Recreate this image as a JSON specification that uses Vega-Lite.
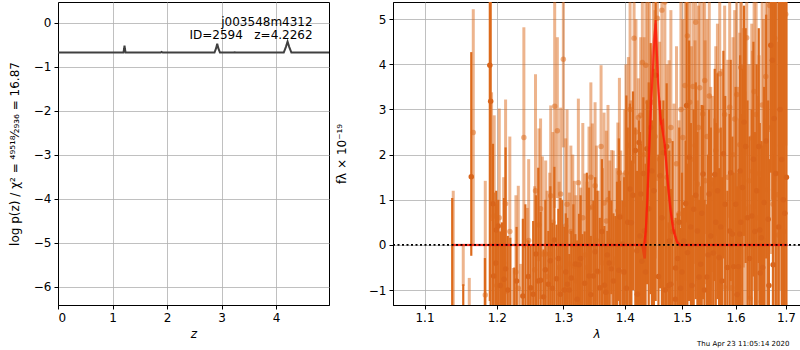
{
  "$schema": "https://vega.github.io/schema/vega-lite/v6.json",
  "padding": {"left": 7, "top": 1, "right": 2, "bottom": 1},
  "config": {
    "font": "DejaVu Sans",
    "view": {"stroke": "black", "strokeWidth": 1},
    "concat": {"spacing": 4},
    "text": {"font": "DejaVu Sans"},
    "axis": {
      "grid": true, "gridColor": "#b0b0b0", "gridWidth": 0.8, "gridOpacity": 1,
      "domainColor": "black", "tickColor": "black", "tickSize": 4,
      "labelFont": "DejaVu Sans", "labelFontSize": 12, "labelColor": "black", "labelPadding": 3,
      "titleFont": "DejaVu Sans", "titleFontSize": 12, "titleColor": "black", "titleFontWeight": "normal"
    }
  },
  "datasets": {
    "pz": [
      {"z": 0, "p": -0.68}, {"z": 1.2, "p": -0.68}, {"z": 1.212, "p": -0.6}, {"z": 1.22, "p": -0.52}, {"z": 1.228, "p": -0.6}, {"z": 1.24, "p": -0.68},
      {"z": 1.88, "p": -0.68}, {"z": 1.9, "p": -0.665}, {"z": 1.92, "p": -0.68},
      {"z": 2.87, "p": -0.68}, {"z": 2.9, "p": -0.58}, {"z": 2.92, "p": -0.48}, {"z": 2.94, "p": -0.58}, {"z": 2.97, "p": -0.68},
      {"z": 3.22, "p": -0.68}, {"z": 3.24, "p": -0.672}, {"z": 3.26, "p": -0.68},
      {"z": 4.14, "p": -0.68}, {"z": 4.18, "p": -0.55}, {"z": 4.21, "p": -0.43}, {"z": 4.24, "p": -0.55}, {"z": 4.28, "p": -0.68},
      {"z": 4.97, "p": -0.68}
    ],
    "light": [
      {"l": 1.1387, "f": null, "lo": -2, "hi": 1.2},
      {"l": 1.1525, "f": null, "lo": -0.91, "hi": -0.02},
      {"l": 1.1609, "f": null, "lo": -2, "hi": -0.73},
      {"l": 1.1665, "f": 2.49, "lo": -0.02, "hi": 5.22},
      {"l": 1.1835, "f": -1.11, "lo": -2, "hi": 1.42},
      {"l": 1.1925, "f": null, "lo": 0.53, "hi": 3.38},
      {"l": 1.1963, "f": 0.64, "lo": -0.47, "hi": 2.87},
      {"l": 1.2000, "f": -0.9, "lo": -2, "hi": 0.9},
      {"l": 1.2036, "f": 0.6, "lo": -1.8, "hi": 3.02},
      {"l": 1.2100, "f": -0.4, "lo": -2, "hi": 1.5},
      {"l": 1.2128, "f": 0.91, "lo": -1.09, "hi": 3.22},
      {"l": 1.2190, "f": 0.3, "lo": -1.8, "hi": 2.4},
      {"l": 1.2241, "f": null, "lo": -2, "hi": -0.51},
      {"l": 1.2280, "f": -0.6, "lo": -2, "hi": 1.1},
      {"l": 1.2315, "f": -0.96, "lo": -2, "hi": 1.31},
      {"l": 1.2349, "f": null, "lo": -2, "hi": -0.42},
      {"l": 1.2398, "f": 2.38, "lo": -0.07, "hi": 4.82},
      {"l": 1.2449, "f": null, "lo": -2, "hi": 0.82},
      {"l": 1.2470, "f": 0.1, "lo": -2, "hi": 1.9},
      {"l": 1.2495, "f": null, "lo": -2, "hi": -0.91},
      {"l": 1.2560, "f": -0.55, "lo": -2, "hi": 1.3},
      {"l": 1.2573, "f": 1.2, "lo": -2, "hi": 3.78},
      {"l": 1.2625, "f": 0.44, "lo": -0.36, "hi": 2.58},
      {"l": 1.2650, "f": 0.8, "lo": -1.2, "hi": 2.8},
      {"l": 1.2677, "f": -0.2, "lo": -1.5, "hi": 1.96},
      {"l": 1.2728, "f": -0.2, "lo": -2, "hi": 1.87},
      {"l": 1.2750, "f": -0.7, "lo": -2, "hi": 1.2},
      {"l": 1.2790, "f": -0.2, "lo": -2, "hi": 1.6},
      {"l": 1.2806, "f": 1.09, "lo": -0.87, "hi": 3.09},
      {"l": 1.2840, "f": 0.5, "lo": -1.5, "hi": 2.5},
      {"l": 1.2867, "f": 3.07, "lo": 0.82, "hi": 6},
      {"l": 1.2908, "f": 2.53, "lo": 1.04, "hi": 4.6},
      {"l": 1.2935, "f": -0.5, "lo": -2, "hi": 1.4},
      {"l": 1.2960, "f": 1.13, "lo": -1.02, "hi": 3.04},
      {"l": 1.3002, "f": 4.11, "lo": 2.16, "hi": 6},
      {"l": 1.3038, "f": 0.42, "lo": -2, "hi": 2.36},
      {"l": 1.3060, "f": 0.9, "lo": -1.2, "hi": 3.0},
      {"l": 1.3096, "f": -0.42, "lo": -2, "hi": 1.16},
      {"l": 1.3120, "f": 0.3, "lo": -1.6, "hi": 2.2},
      {"l": 1.3150, "f": 0.0, "lo": -2, "hi": 2.0},
      {"l": 1.3175, "f": -0.47, "lo": -2, "hi": 1.42},
      {"l": 1.3200, "f": -0.8, "lo": -2, "hi": 1.1},
      {"l": 1.3239, "f": 1.38, "lo": -2, "hi": 3.24},
      {"l": 1.3277, "f": null, "lo": -2, "hi": 1.27},
      {"l": 1.3310, "f": 0.6, "lo": -1.5, "hi": 2.7},
      {"l": 1.3346, "f": -0.22, "lo": -2, "hi": 1.58},
      {"l": 1.3380, "f": -0.5, "lo": -2, "hi": 1.4},
      {"l": 1.3410, "f": 0.82, "lo": -2, "hi": 2.62},
      {"l": 1.3440, "f": 1.5, "lo": -0.6, "hi": 3.6},
      {"l": 1.3464, "f": 0.84, "lo": -2, "hi": 2.69},
      {"l": 1.3508, "f": 1.31, "lo": -1.24, "hi": 3.16},
      {"l": 1.3530, "f": 0.1, "lo": -2, "hi": 2.2},
      {"l": 1.3560, "f": -0.6, "lo": -2, "hi": 1.2},
      {"l": 1.3606, "f": 2.18, "lo": -0.36, "hi": 3.98},
      {"l": 1.3630, "f": -0.4, "lo": -2, "hi": 1.7},
      {"l": 1.3655, "f": 0.93, "lo": -1.09, "hi": 2.93},
      {"l": 1.3693, "f": 0.53, "lo": -2, "hi": 2.53},
      {"l": 1.3720, "f": 1.0, "lo": -1.1, "hi": 3.1},
      {"l": 1.3750, "f": 0.09, "lo": -2, "hi": 1.87},
      {"l": 1.3780, "f": 0.0, "lo": -2, "hi": 2.1},
      {"l": 1.3808, "f": -0.4, "lo": -2, "hi": 2.09},
      {"l": 1.3860, "f": -0.3, "lo": -2, "hi": 1.7},
      {"l": 1.3884, "f": 0.76, "lo": 0.38, "hi": 2.71},
      {"l": 1.3910, "f": 1.6, "lo": -0.5, "hi": 3.7},
      {"l": 1.3932, "f": 0.64, "lo": -0.51, "hi": 2.09},
      {"l": 1.3970, "f": -0.6, "lo": -2, "hi": 1.6},
      {"l": 1.4000, "f": 0.9, "lo": -1.3, "hi": 3.0},
      {"l": 1.4020, "f": 1.6, "lo": -0.8, "hi": 4.0},
      {"l": 1.4061, "f": 2.2, "lo": -1.0, "hi": 4.16},
      {"l": 1.4090, "f": 3.0, "lo": 0.5, "hi": 5.6},
      {"l": 1.4104, "f": 1.58, "lo": -0.36, "hi": 3.2},
      {"l": 1.4158, "f": 4.58, "lo": 1.8, "hi": 6},
      {"l": 1.4190, "f": 2.5, "lo": 0.0, "hi": 5.0},
      {"l": 1.4231, "f": 2.82, "lo": -0.51, "hi": 3.69},
      {"l": 1.4271, "f": 2.87, "lo": 0.98, "hi": 4.6},
      {"l": 1.4300, "f": 4.04, "lo": -0.13, "hi": 6},
      {"l": 1.4330, "f": 2.0, "lo": -0.5, "hi": 4.6},
      {"l": 1.4360, "f": 3.98, "lo": 0.38, "hi": 6},
      {"l": 1.4395, "f": 3.16, "lo": 1.27, "hi": 6},
      {"l": 1.4421, "f": 2.49, "lo": 1.27, "hi": 6},
      {"l": 1.4491, "f": 3.16, "lo": 1.71, "hi": 6},
      {"l": 1.4520, "f": 2.4, "lo": -0.3, "hi": 5.2},
      {"l": 1.4561, "f": 5.02, "lo": 1.42, "hi": 6},
      {"l": 1.4600, "f": 1.9, "lo": -0.6, "hi": 4.5},
      {"l": 1.4640, "f": 5.2, "lo": 0.76, "hi": 6},
      {"l": 1.4693, "f": 5.38, "lo": 1.27, "hi": 6},
      {"l": 1.4730, "f": 1.5, "lo": -1.0, "hi": 4.0},
      {"l": 1.4767, "f": 2.31, "lo": 0.38, "hi": 4.09},
      {"l": 1.4800, "f": 2.6, "lo": 0.0, "hi": 5.2},
      {"l": 1.4855, "f": 0.49, "lo": -2, "hi": 3.13},
      {"l": 1.4900, "f": 1.8, "lo": -0.8, "hi": 4.4},
      {"l": 1.4944, "f": 0.69, "lo": -2, "hi": 2.76},
      {"l": 1.4980, "f": 3.0, "lo": 0.4, "hi": 5.6},
      {"l": 1.5015, "f": 2.38, "lo": -0.2, "hi": 5.0},
      {"l": 1.5055, "f": 3.53, "lo": -0.8, "hi": 6},
      {"l": 1.5097, "f": 4.63, "lo": 0.98, "hi": 6},
      {"l": 1.5139, "f": 3.16, "lo": 0.31, "hi": 6},
      {"l": 1.5170, "f": 1.9, "lo": -0.6, "hi": 4.4},
      {"l": 1.5200, "f": 3.51, "lo": 0.98, "hi": 6},
      {"l": 1.5237, "f": 2.2, "lo": -0.42, "hi": 4.53},
      {"l": 1.5249, "f": 4.93, "lo": 1.42, "hi": 6},
      {"l": 1.5280, "f": 1.35, "lo": -0.8, "hi": 3.2},
      {"l": 1.5300, "f": 2.6, "lo": 0.0, "hi": 5.3},
      {"l": 1.5323, "f": 3.48, "lo": -0.13, "hi": 6},
      {"l": 1.5380, "f": 2.9, "lo": 0.3, "hi": 5.6},
      {"l": 1.5415, "f": 3.64, "lo": 0.24, "hi": 6},
      {"l": 1.5422, "f": 1.42, "lo": -0.87, "hi": 4.53},
      {"l": 1.5460, "f": 2.4, "lo": -0.2, "hi": 5.0},
      {"l": 1.5500, "f": 3.3, "lo": 0.7, "hi": 6},
      {"l": 1.5528, "f": 1.2, "lo": -1.0, "hi": 3.5},
      {"l": 1.5559, "f": 1.35, "lo": -0.6, "hi": 3.3},
      {"l": 1.5600, "f": 0.3, "lo": -2, "hi": 2.8},
      {"l": 1.5622, "f": 2.09, "lo": -0.2, "hi": 4.4},
      {"l": 1.5653, "f": 2.53, "lo": 0.2, "hi": 4.9},
      {"l": 1.5697, "f": 3.79, "lo": 1.5, "hi": 6},
      {"l": 1.5730, "f": 1.4, "lo": -1.0, "hi": 3.9},
      {"l": 1.5778, "f": -0.93, "lo": -2, "hi": 0.9},
      {"l": 1.5790, "f": 2.89, "lo": 0.4, "hi": 5.3},
      {"l": 1.5850, "f": 1.5, "lo": -1.0, "hi": 4.1},
      {"l": 1.5886, "f": 3.05, "lo": 0.6, "hi": 5.5},
      {"l": 1.5925, "f": -0.95, "lo": -2, "hi": 0.8},
      {"l": 1.5950, "f": 2.0, "lo": -0.5, "hi": 4.6},
      {"l": 1.5982, "f": 2.79, "lo": 0.3, "hi": 5.2},
      {"l": 1.6021, "f": 3.33, "lo": 1.0, "hi": 5.7},
      {"l": 1.6040, "f": 0.9, "lo": -1.6, "hi": 3.5},
      {"l": 1.6067, "f": -0.91, "lo": -2, "hi": 1.2},
      {"l": 1.6080, "f": 2.22, "lo": -0.2, "hi": 4.7},
      {"l": 1.6099, "f": 3.93, "lo": 1.5, "hi": 6},
      {"l": 1.6111, "f": 3.94, "lo": 1.6, "hi": 6},
      {"l": 1.6150, "f": 2.1, "lo": -0.5, "hi": 4.8},
      {"l": 1.6180, "f": 0.8, "lo": -1.8, "hi": 3.4},
      {"l": 1.6215, "f": 4.59, "lo": 2.0, "hi": 6},
      {"l": 1.6261, "f": 1.42, "lo": -1.2, "hi": 4.0},
      {"l": 1.6280, "f": -1.18, "lo": -2, "hi": 0.9},
      {"l": 1.6314, "f": 2.37, "lo": -0.1, "hi": 4.9},
      {"l": 1.6327, "f": 1.63, "lo": -1.0, "hi": 4.3},
      {"l": 1.6360, "f": 3.4, "lo": 0.8, "hi": 6},
      {"l": 1.6400, "f": 2.89, "lo": 0.3, "hi": 5.5},
      {"l": 1.6430, "f": 0.6, "lo": -2, "hi": 3.3},
      {"l": 1.6459, "f": 1.58, "lo": -1.0, "hi": 4.2},
      {"l": 1.6499, "f": -1.26, "lo": -2, "hi": 1.0},
      {"l": 1.6520, "f": 3.1, "lo": 0.5, "hi": 5.8},
      {"l": 1.6545, "f": 2.22, "lo": -0.6, "hi": 5.0},
      {"l": 1.6570, "f": 0.1, "lo": -2, "hi": 2.8},
      {"l": 1.6592, "f": 3.73, "lo": 0.9, "hi": 6},
      {"l": 1.6625, "f": 1.22, "lo": -2, "hi": 6},
      {"l": 1.6672, "f": 5.3, "lo": 2.5, "hi": 6},
      {"l": 1.6700, "f": 2.6, "lo": -0.2, "hi": 6},
      {"l": 1.6740, "f": 0.9, "lo": -2, "hi": 6},
      {"l": 1.6773, "f": 4.58, "lo": 1.4, "hi": 6},
      {"l": 1.6826, "f": 1.11, "lo": -2, "hi": 6},
      {"l": 1.6846, "f": 0.22, "lo": -2, "hi": 4.5},
      {"l": 1.6890, "f": 2.2, "lo": -1, "hi": 6},
      {"l": 1.6930, "f": 3.6, "lo": 0.5, "hi": 6},
      {"l": 1.6960, "f": 0.3, "lo": -2, "hi": 6},
      {"l": 1.6996, "f": 5.11, "lo": 2.2, "hi": 6}
    ],
    "dark": [
      {"l": 1.1373, "f": null, "lo": -2, "hi": 1.04},
      {"l": 1.1525, "f": null, "lo": -2, "hi": -0.87},
      {"l": 1.1637, "f": 1.51, "lo": -0.24, "hi": 4.27},
      {"l": 1.1830, "f": null, "lo": -2, "hi": -0.29},
      {"l": 1.1900, "f": 3.98, "lo": -1.24, "hi": 6},
      {"l": 1.1912, "f": 3.18, "lo": -2, "hi": 6},
      {"l": 1.1945, "f": 0.91, "lo": -2, "hi": 2.24},
      {"l": 1.1955, "f": -0.69, "lo": -2, "hi": 1.16},
      {"l": 1.1985, "f": -0.4, "lo": -2, "hi": 0.9},
      {"l": 1.1992, "f": 0.33, "lo": -2, "hi": 1.2},
      {"l": 1.2021, "f": 0.42, "lo": -2, "hi": 1.0},
      {"l": 1.2051, "f": -0.9, "lo": -2, "hi": 0.3},
      {"l": 1.2075, "f": null, "lo": -2, "hi": 0.5},
      {"l": 1.2105, "f": -0.76, "lo": -2, "hi": 1.04},
      {"l": 1.2128, "f": -0.53, "lo": -2, "hi": 2.16},
      {"l": 1.2160, "f": -1.0, "lo": -2, "hi": 0.2},
      {"l": 1.2197, "f": null, "lo": -2, "hi": 0.16},
      {"l": 1.2256, "f": null, "lo": -2, "hi": -0.5},
      {"l": 1.2290, "f": -0.8, "lo": -2, "hi": 0.4},
      {"l": 1.2383, "f": -1.13, "lo": -2, "hi": 0.58},
      {"l": 1.2420, "f": null, "lo": -2, "hi": 0.9},
      {"l": 1.2464, "f": -0.7, "lo": -2, "hi": 0.1},
      {"l": 1.2500, "f": -0.95, "lo": -2, "hi": 0.0},
      {"l": 1.2538, "f": -1.09, "lo": -2, "hi": 0.53},
      {"l": 1.2580, "f": -0.2, "lo": -2, "hi": 1.1},
      {"l": 1.2615, "f": -0.8, "lo": -2, "hi": 1.71},
      {"l": 1.2650, "f": -0.78, "lo": -2, "hi": 0.73},
      {"l": 1.2695, "f": -1.15, "lo": -2, "hi": -0.1},
      {"l": 1.2723, "f": -0.55, "lo": -2, "hi": 1.0},
      {"l": 1.2769, "f": -0.87, "lo": -2, "hi": 0.31},
      {"l": 1.2800, "f": -0.35, "lo": -2, "hi": 1.3},
      {"l": 1.2830, "f": -0.96, "lo": -2, "hi": 0.49},
      {"l": 1.2862, "f": 0.11, "lo": -2, "hi": 1.73},
      {"l": 1.2895, "f": -0.75, "lo": -2, "hi": 0.45},
      {"l": 1.2924, "f": -0.3, "lo": -2, "hi": 0.8},
      {"l": 1.2955, "f": -1.09, "lo": -2, "hi": 1.04},
      {"l": 1.2985, "f": null, "lo": -2, "hi": 1.0},
      {"l": 1.3017, "f": -1.0, "lo": -2, "hi": 0.4},
      {"l": 1.3040, "f": -0.6, "lo": -2, "hi": 0.7},
      {"l": 1.3064, "f": -0.87, "lo": -2, "hi": 0.6},
      {"l": 1.3095, "f": -1.0, "lo": -2, "hi": -0.2},
      {"l": 1.3127, "f": -0.73, "lo": -2, "hi": 0.31},
      {"l": 1.3160, "f": null, "lo": -2, "hi": 0.9},
      {"l": 1.3191, "f": -0.42, "lo": -2, "hi": 0.24},
      {"l": 1.3220, "f": -1.2, "lo": -2, "hi": 0.1},
      {"l": 1.3250, "f": -0.44, "lo": -2, "hi": 0.69},
      {"l": 1.3275, "f": -0.3, "lo": -2, "hi": 1.1},
      {"l": 1.3303, "f": null, "lo": -2, "hi": 0.24},
      {"l": 1.3340, "f": -0.85, "lo": -2, "hi": 0.3},
      {"l": 1.3375, "f": null, "lo": -2, "hi": 1.6},
      {"l": 1.3410, "f": -0.69, "lo": -2, "hi": 1.27},
      {"l": 1.3440, "f": -1.1, "lo": -2, "hi": 0.2},
      {"l": 1.3480, "f": -0.69, "lo": -2, "hi": 0.98},
      {"l": 1.3510, "f": -0.15, "lo": -2, "hi": 1.5},
      {"l": 1.3545, "f": -0.58, "lo": -2, "hi": 1.2},
      {"l": 1.3585, "f": -0.95, "lo": -2, "hi": 0.6},
      {"l": 1.3620, "f": 0.3, "lo": -2, "hi": 1.9},
      {"l": 1.3660, "f": -0.89, "lo": -2, "hi": 0.42},
      {"l": 1.3685, "f": -1.05, "lo": -2, "hi": 0.0},
      {"l": 1.3709, "f": -0.22, "lo": -2, "hi": 0.31},
      {"l": 1.3740, "f": -0.4, "lo": -2, "hi": 1.2},
      {"l": 1.3775, "f": -0.53, "lo": -1.09, "hi": 0.98},
      {"l": 1.3810, "f": -0.8, "lo": -2, "hi": 0.7},
      {"l": 1.3842, "f": null, "lo": -2, "hi": 0.64},
      {"l": 1.3870, "f": null, "lo": -2, "hi": 1.4},
      {"l": 1.3901, "f": -0.56, "lo": -1.24, "hi": 2.36},
      {"l": 1.3918, "f": 0.62, "lo": -2, "hi": 1.42},
      {"l": 1.3960, "f": 0.02, "lo": -2, "hi": 0.98},
      {"l": 1.3990, "f": -0.6, "lo": -2, "hi": 1.5},
      {"l": 1.4027, "f": -0.96, "lo": -2, "hi": 3.31},
      {"l": 1.4050, "f": 0.5, "lo": -1.5, "hi": 2.6},
      {"l": 1.4087, "f": 1.24, "lo": -2, "hi": 3.13},
      {"l": 1.4112, "f": 0.49, "lo": -2, "hi": 1.87},
      {"l": 1.4140, "f": 1.1, "lo": -1.0, "hi": 3.4},
      {"l": 1.4180, "f": 2.09, "lo": -2, "hi": 2.6},
      {"l": 1.4206, "f": -0.13, "lo": -2, "hi": 1.64},
      {"l": 1.4214, "f": -1.09, "lo": -2, "hi": 0.3},
      {"l": 1.4243, "f": 2.27, "lo": -2, "hi": 2.76},
      {"l": 1.4260, "f": 0.2, "lo": -2, "hi": 2.5},
      {"l": 1.4275, "f": 1.13, "lo": -1.24, "hi": 2.24},
      {"l": 1.4292, "f": -0.36, "lo": -2, "hi": 0.98},
      {"l": 1.4317, "f": 1.58, "lo": -2, "hi": 3.27},
      {"l": 1.4334, "f": 0.31, "lo": -2, "hi": 1.64},
      {"l": 1.4355, "f": -0.6, "lo": -2, "hi": 1.8},
      {"l": 1.4378, "f": 2.13, "lo": -0.87, "hi": 3.2},
      {"l": 1.4410, "f": 0.8, "lo": -1.6, "hi": 3.6},
      {"l": 1.4444, "f": 2.6, "lo": -1.09, "hi": 4.47},
      {"l": 1.4465, "f": 1.64, "lo": -2, "hi": 2.76},
      {"l": 1.4500, "f": 1.2, "lo": -1.5, "hi": 3.9},
      {"l": 1.4531, "f": 3.76, "lo": -1.24, "hi": 5.5},
      {"l": 1.4580, "f": -0.7, "lo": -2, "hi": 2.0},
      {"l": 1.4609, "f": 1.53, "lo": -0.96, "hi": 3.2},
      {"l": 1.4640, "f": 0.6, "lo": -2, "hi": 3.0},
      {"l": 1.4667, "f": 2.04, "lo": -2, "hi": 3.2},
      {"l": 1.4700, "f": -1.0, "lo": -2, "hi": 1.3},
      {"l": 1.4725, "f": 2.18, "lo": -2, "hi": 3.58},
      {"l": 1.4760, "f": -0.9, "lo": -2, "hi": 0.5},
      {"l": 1.4772, "f": 0.09, "lo": -2, "hi": 2.09},
      {"l": 1.4798, "f": -0.87, "lo": -2, "hi": 1.24},
      {"l": 1.4830, "f": 0.3, "lo": -2, "hi": 2.3},
      {"l": 1.4880, "f": -1.2, "lo": -2, "hi": 0.2},
      {"l": 1.4884, "f": -0.51, "lo": -2, "hi": 0.6},
      {"l": 1.4920, "f": -0.3, "lo": -2, "hi": 0.7},
      {"l": 1.4950, "f": 0.5, "lo": -1.8, "hi": 2.6},
      {"l": 1.4973, "f": -0.96, "lo": -2, "hi": 0.38},
      {"l": 1.5000, "f": -0.6, "lo": -2, "hi": 1.6},
      {"l": 1.5033, "f": 0.09, "lo": -2, "hi": 0.82},
      {"l": 1.5066, "f": 0.92, "lo": -2, "hi": 2.31},
      {"l": 1.5083, "f": 3.09, "lo": 0.5, "hi": 5.6},
      {"l": 1.5097, "f": -0.17, "lo": -2, "hi": 1.8},
      {"l": 1.5128, "f": 1.94, "lo": -1.24, "hi": 4.53},
      {"l": 1.5160, "f": 0.4, "lo": -2, "hi": 2.7},
      {"l": 1.5180, "f": -0.9, "lo": -2, "hi": 1.1},
      {"l": 1.5212, "f": 0.79, "lo": -1.5, "hi": 3.0},
      {"l": 1.5250, "f": 1.1, "lo": -1.2, "hi": 3.6},
      {"l": 1.5280, "f": 0.31, "lo": -2, "hi": 2.5},
      {"l": 1.5311, "f": -0.71, "lo": -2, "hi": 1.0},
      {"l": 1.5341, "f": -0.43, "lo": -2, "hi": 1.3},
      {"l": 1.5360, "f": 0.7, "lo": -1.6, "hi": 3.1},
      {"l": 1.5385, "f": 1.57, "lo": -1.2, "hi": 3.09},
      {"l": 1.5410, "f": -1.0, "lo": -2, "hi": 1.0},
      {"l": 1.5455, "f": -0.71, "lo": -2, "hi": 0.9},
      {"l": 1.5478, "f": -0.22, "lo": -2, "hi": 2.0},
      {"l": 1.5497, "f": 1.13, "lo": -2, "hi": 3.0},
      {"l": 1.5530, "f": 0.2, "lo": -2, "hi": 2.6},
      {"l": 1.5573, "f": -0.18, "lo": -2, "hi": 1.5},
      {"l": 1.5603, "f": 1.56, "lo": -0.8, "hi": 3.9},
      {"l": 1.5622, "f": 0.5, "lo": -1.6, "hi": 2.7},
      {"l": 1.5655, "f": 1.2, "lo": -1.2, "hi": 3.8},
      {"l": 1.5684, "f": -0.28, "lo": -2, "hi": 1.7},
      {"l": 1.5716, "f": 0.4, "lo": -1.8, "hi": 2.6},
      {"l": 1.5740, "f": -0.8, "lo": -2, "hi": 1.5},
      {"l": 1.5766, "f": 2.02, "lo": -0.3, "hi": 4.3},
      {"l": 1.5800, "f": 0.9, "lo": -1.5, "hi": 3.3},
      {"l": 1.5842, "f": -0.5, "lo": -2, "hi": 1.2},
      {"l": 1.5886, "f": 0.31, "lo": -2, "hi": 2.9},
      {"l": 1.5905, "f": 1.6, "lo": -0.8, "hi": 4.1},
      {"l": 1.5938, "f": 0.24, "lo": -2, "hi": 2.4},
      {"l": 1.5963, "f": -0.48, "lo": -2, "hi": 1.6},
      {"l": 1.6000, "f": 0.9, "lo": -1.6, "hi": 3.5},
      {"l": 1.6030, "f": -1.1, "lo": -2, "hi": 1.3},
      {"l": 1.6053, "f": -0.48, "lo": -2, "hi": 1.6},
      {"l": 1.6080, "f": 0.24, "lo": -2, "hi": 2.8},
      {"l": 1.6087, "f": 1.64, "lo": -1.0, "hi": 4.2},
      {"l": 1.6099, "f": 0.5, "lo": -2, "hi": 2.9},
      {"l": 1.6131, "f": 1.27, "lo": -1.4, "hi": 3.9},
      {"l": 1.6163, "f": 2.72, "lo": 0.2, "hi": 5.3},
      {"l": 1.6195, "f": 2.18, "lo": -0.4, "hi": 4.8},
      {"l": 1.6230, "f": 0.6, "lo": -2, "hi": 3.2},
      {"l": 1.6270, "f": -0.3, "lo": -2, "hi": 2.4},
      {"l": 1.6314, "f": 0.64, "lo": -2, "hi": 3.0},
      {"l": 1.6347, "f": 1.9, "lo": -0.7, "hi": 4.5},
      {"l": 1.6375, "f": 0.3, "lo": -2, "hi": 2.5},
      {"l": 1.6410, "f": 1.2, "lo": -1.4, "hi": 4.0},
      {"l": 1.6452, "f": 2.18, "lo": -0.4, "hi": 4.8},
      {"l": 1.6472, "f": 0.33, "lo": -2, "hi": 2.7},
      {"l": 1.6480, "f": -0.62, "lo": -2, "hi": 1.5},
      {"l": 1.6505, "f": 0.16, "lo": -2, "hi": 2.3},
      {"l": 1.6530, "f": -0.5, "lo": -2, "hi": 2.2},
      {"l": 1.6559, "f": 0.94, "lo": -1.5, "hi": 3.5},
      {"l": 1.6600, "f": 2.3, "lo": -0.3, "hi": 5.1},
      {"l": 1.6640, "f": 0.57, "lo": -2, "hi": 3.2},
      {"l": 1.6655, "f": -0.9, "lo": -2, "hi": 1.9},
      {"l": 1.6692, "f": 4.42, "lo": 1.6, "hi": 6},
      {"l": 1.6725, "f": 4.09, "lo": 1.0, "hi": 6},
      {"l": 1.6739, "f": -0.44, "lo": -2, "hi": 2.0},
      {"l": 1.6760, "f": 2.8, "lo": 0, "hi": 6},
      {"l": 1.6793, "f": 1.58, "lo": -1.5, "hi": 6},
      {"l": 1.6850, "f": 0.4, "lo": -2, "hi": 6},
      {"l": 1.6880, "f": 3.0, "lo": 0, "hi": 6},
      {"l": 1.6914, "f": 1.89, "lo": -2, "hi": 6},
      {"l": 1.6945, "f": 1.0, "lo": -2, "hi": 6},
      {"l": 1.6975, "f": 0.7, "lo": -2, "hi": 6},
      {"l": 1.7010, "f": 1.5, "lo": -2, "hi": 6}
    ],
    "model": [
      {"l": 1.137, "f": 0}, {"l": 1.4329, "f": 0}, {"l": 1.4357, "f": 0.31}, {"l": 1.4386, "f": 0.98},
      {"l": 1.4415, "f": 1.94}, {"l": 1.4456, "f": 3.2}, {"l": 1.4508, "f": 4.53}, {"l": 1.4531, "f": 4.98},
      {"l": 1.4573, "f": 3.58}, {"l": 1.4619, "f": 2.76}, {"l": 1.4689, "f": 2.24}, {"l": 1.4737, "f": 1.49},
      {"l": 1.4785, "f": 0.82}, {"l": 1.4844, "f": 0.31}, {"l": 1.4916, "f": 0.04}, {"l": 1.4963, "f": 0}, {"l": 1.703, "f": 0}
    ],
    "model2": [
      {"l": 1.137, "f": 0}, {"l": 1.4300, "f": 0}, {"l": 1.4340, "f": -0.3}, {"l": 1.4370, "f": 0.5},
      {"l": 1.4415, "f": 2.2}, {"l": 1.4473, "f": 4.2}, {"l": 1.4531, "f": 4.9}, {"l": 1.4580, "f": 3.4},
      {"l": 1.4620, "f": 2.7}, {"l": 1.4660, "f": 2.75}, {"l": 1.4700, "f": 2.1}, {"l": 1.4760, "f": 1.2},
      {"l": 1.4830, "f": 0.5}, {"l": 1.4900, "f": 0.1}, {"l": 1.4960, "f": 0}, {"l": 1.703, "f": 0}
    ]
  },
  "hconcat": [
    {
      "width": 271,
      "height": 303,
      "layer": [
        {
          "data": {"name": "pz"},
          "mark": {"type": "line", "color": "#404040", "strokeWidth": 2, "clip": true},
          "encoding": {
            "x": {"field": "z", "type": "quantitative", "scale": {"domain": [0, 4.97], "nice": false, "zero": false},
                  "axis": {"title": "z", "titleFontStyle": "italic", "values": [0, 1, 2, 3, 4], "format": "d", "titlePadding": 5}},
            "y": {"field": "p", "type": "quantitative", "scale": {"domain": [-6.42, 0.47], "nice": false, "zero": false},
                  "axis": {"title": "log p(z) / χ² = ⁴⁹⁵¹⁸⁄₂₉₃₆ = 16.87", "values": [-6, -5, -4, -3, -2, -1, 0], "format": "d", "titlePadding": 12}}
          }
        },
        {
          "data": {"values": [
            {"z": 4.67, "p": -0.075, "t": "j003548m4312"},
            {"z": 4.67, "p": -0.38, "t": "ID=2594\u00a0\u00a0\u00a0z=4.2262"}
          ]},
          "mark": {"type": "text", "align": "right", "baseline": "alphabetic", "font": "DejaVu Sans", "fontSize": 12, "color": "black", "clip": true},
          "encoding": {
            "x": {"field": "z", "type": "quantitative", "scale": {"domain": [0, 4.97], "nice": false, "zero": false},
                  "axis": {"title": "z", "titleFontStyle": "italic", "values": [0, 1, 2, 3, 4], "format": "d", "titlePadding": 5}},
            "y": {"field": "p", "type": "quantitative", "scale": {"domain": [-6.42, 0.47], "nice": false, "zero": false},
                  "axis": {"title": "log p(z) / χ² = ⁴⁹⁵¹⁸⁄₂₉₃₆ = 16.87", "values": [-6, -5, -4, -3, -2, -1, 0], "format": "d", "titlePadding": 12}},
            "text": {"field": "t"}
          }
        }
      ]
    },
    {
      "width": 407,
      "height": 303,
      "encoding": {
        "x": {"field": "l", "type": "quantitative", "scale": {"type": "log", "domain": [1.059, 1.729], "nice": false, "zero": false},
              "axis": {"title": "λ", "titleFontStyle": "italic", "values": [1.1, 1.2, 1.3, 1.4, 1.5, 1.6, 1.7], "format": ".1f", "titlePadding": 5}}
      },
      "layer": [
        {
          "data": {"name": "light"},
          "mark": {"type": "rule", "color": "#dc6a1c", "opacity": 0.5, "strokeWidth": 3, "clip": true},
          "encoding": {
            "y": {"field": "lo", "type": "quantitative", "scale": {"domain": [-1.33, 5.38], "nice": false, "zero": false},
                  "axis": {"title": "fλ × 10⁻¹⁹", "values": [-1, 0, 1, 2, 3, 4, 5], "format": "d", "titlePadding": 20}},
            "y2": {"field": "hi"}
          }
        },
        {
          "data": {"name": "light"},
          "mark": {"type": "circle", "color": "#dc6a1c", "opacity": 0.5, "size": 30, "clip": true},
          "encoding": {
            "y": {"field": "f", "type": "quantitative", "scale": {"domain": [-1.33, 5.38], "nice": false, "zero": false},
                  "axis": {"title": "fλ × 10⁻¹⁹", "values": [-1, 0, 1, 2, 3, 4, 5], "format": "d", "titlePadding": 20}}
          }
        },
        {
          "data": {"name": "dark"},
          "mark": {"type": "rule", "color": "#dc6a1c", "opacity": 1, "strokeWidth": 2.2, "clip": true},
          "encoding": {
            "y": {"field": "lo", "type": "quantitative", "scale": {"domain": [-1.33, 5.38], "nice": false, "zero": false},
                  "axis": {"title": "fλ × 10⁻¹⁹", "values": [-1, 0, 1, 2, 3, 4, 5], "format": "d", "titlePadding": 20}},
            "y2": {"field": "hi"}
          }
        },
        {
          "data": {"name": "dark"},
          "mark": {"type": "circle", "color": "#d8641a", "opacity": 1, "size": 30, "clip": true},
          "encoding": {
            "y": {"field": "f", "type": "quantitative", "scale": {"domain": [-1.33, 5.38], "nice": false, "zero": false},
                  "axis": {"title": "fλ × 10⁻¹⁹", "values": [-1, 0, 1, 2, 3, 4, 5], "format": "d", "titlePadding": 20}}
          }
        },
        {
          "data": {"name": "model2"},
          "mark": {"type": "line", "color": "#ff0000", "opacity": 0.35, "strokeWidth": 2.5, "clip": true},
          "encoding": {
            "y": {"field": "f", "type": "quantitative", "scale": {"domain": [-1.33, 5.38], "nice": false, "zero": false},
                  "axis": {"title": "fλ × 10⁻¹⁹", "values": [-1, 0, 1, 2, 3, 4, 5], "format": "d", "titlePadding": 20}}
          }
        },
        {
          "data": {"name": "model"},
          "mark": {"type": "line", "color": "#ff1a0a", "opacity": 0.8, "strokeWidth": 2, "clip": true},
          "encoding": {
            "y": {"field": "f", "type": "quantitative", "scale": {"domain": [-1.33, 5.38], "nice": false, "zero": false},
                  "axis": {"title": "fλ × 10⁻¹⁹", "values": [-1, 0, 1, 2, 3, 4, 5], "format": "d", "titlePadding": 20}}
          }
        },
        {
          "data": {"values": [{"l": 1.059, "f": 0}, {"l": 1.729, "f": 0}]},
          "mark": {"type": "line", "color": "black", "strokeWidth": 1.8, "strokeDash": [2, 2.5], "clip": true},
          "encoding": {
            "y": {"field": "f", "type": "quantitative", "scale": {"domain": [-1.33, 5.38], "nice": false, "zero": false},
                  "axis": {"title": "fλ × 10⁻¹⁹", "values": [-1, 0, 1, 2, 3, 4, 5], "format": "d", "titlePadding": 20}}
          }
        },
        {
          "data": {"values": [{"l": 1.7071, "f": -2.244, "t": "Thu Apr 23 11:05:14 2020"}]},
          "mark": {"type": "text", "align": "right", "baseline": "alphabetic", "font": "DejaVu Sans", "fontSize": 7, "color": "black"},
          "encoding": {
            "y": {"field": "f", "type": "quantitative", "scale": {"domain": [-1.33, 5.38], "nice": false, "zero": false},
                  "axis": {"title": "fλ × 10⁻¹⁹", "values": [-1, 0, 1, 2, 3, 4, 5], "format": "d", "titlePadding": 20}},
            "text": {"field": "t"}
          }
        }
      ]
    }
  ]
}
